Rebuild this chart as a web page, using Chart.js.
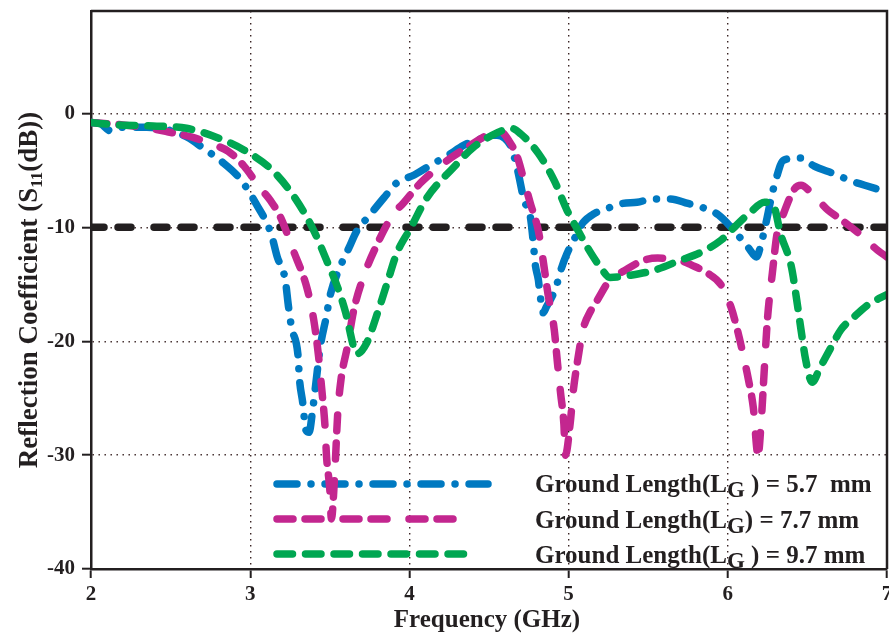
<!DOCTYPE html>
<html><head><meta charset="utf-8">
<script src="https://cdn.jsdelivr.net/npm/chart.js@4/dist/chart.umd.min.js"></script>
<style>html,body{margin:0;padding:0;background:#fff}#wrap{width:889px;height:635px;position:relative}</style>
</head><body><div id="wrap"><canvas id="c"></canvas></div>
<script>
// ---- data (frequency GHz, S11 dB) ----
const lg57 = [[2.00,-0.8],[2.06,-0.9],[2.12,-1.5],[2.20,-1.2],[2.35,-1.2],[2.50,-1.5],[2.62,-2.2],[2.70,-3.0],[2.81,-4.1],[2.94,-5.8],[3.04,-8.0],[3.13,-10.5],[3.17,-12.6],[3.22,-14.6],[3.24,-16.9],[3.26,-18.8],[3.30,-21.2],[3.31,-23.4],[3.33,-25.4],[3.35,-27.8],[3.37,-28.0],[3.39,-26.3],[3.41,-24.0],[3.44,-20.5],[3.48,-17.7],[3.50,-16.1],[3.57,-13.3],[3.62,-11.8],[3.67,-10.3],[3.74,-9.1],[3.84,-7.4],[3.92,-6.1],[4.03,-5.4],[4.15,-4.4],[4.24,-3.7],[4.34,-2.8],[4.45,-2.2],[4.55,-1.9],[4.60,-2.2],[4.64,-3.0],[4.68,-5.0],[4.72,-7.6],[4.76,-9.1],[4.78,-11.6],[4.79,-13.2],[4.81,-14.6],[4.82,-15.8],[4.84,-17.5],[4.86,-17.0],[4.92,-15.3],[4.95,-13.8],[4.99,-12.3],[5.04,-10.9],[5.09,-9.6],[5.16,-8.8],[5.25,-8.3],[5.34,-7.9],[5.43,-7.8],[5.53,-7.5],[5.64,-7.5],[5.75,-7.9],[5.85,-8.3],[5.94,-8.9],[6.04,-10.3],[6.13,-11.8],[6.18,-12.6],[6.21,-11.4],[6.24,-9.6],[6.27,-7.6],[6.30,-5.9],[6.35,-4.1],[6.46,-3.9],[6.54,-4.6],[6.67,-5.3],[6.77,-5.9],[6.86,-6.3],[7.00,-6.9]];
const lg77 = [[2.00,-0.8],[2.20,-1.0],[2.37,-1.3],[2.48,-1.6],[2.64,-2.1],[2.76,-2.7],[2.86,-3.3],[2.96,-4.6],[3.06,-6.5],[3.13,-7.7],[3.19,-9.1],[3.27,-12.0],[3.36,-15.5],[3.40,-18.2],[3.43,-21.4],[3.45,-24.3],[3.47,-27.5],[3.48,-30.2],[3.50,-33.0],[3.51,-35.6],[3.53,-31.9],[3.55,-26.3],[3.57,-23.4],[3.61,-20.5],[3.65,-17.3],[3.71,-14.4],[3.80,-11.4],[3.90,-8.8],[3.96,-7.9],[4.07,-6.1],[4.24,-4.1],[4.36,-3.0],[4.49,-1.9],[4.57,-1.6],[4.63,-2.5],[4.68,-3.9],[4.72,-5.9],[4.76,-7.9],[4.81,-10.3],[4.84,-12.9],[4.87,-15.8],[4.91,-19.0],[4.93,-21.9],[4.95,-24.6],[4.97,-27.2],[4.98,-30.0],[5.01,-27.2],[5.03,-24.3],[5.06,-21.4],[5.09,-19.0],[5.14,-17.3],[5.18,-16.4],[5.26,-14.6],[5.35,-13.8],[5.47,-12.9],[5.56,-12.7],[5.70,-12.9],[5.77,-13.3],[5.87,-14.0],[5.96,-15.1],[6.02,-17.0],[6.06,-19.0],[6.10,-21.4],[6.13,-23.4],[6.16,-25.8],[6.19,-30.0],[6.21,-27.0],[6.23,-22.3],[6.25,-17.9],[6.28,-14.0],[6.31,-10.5],[6.35,-8.8],[6.42,-6.6],[6.46,-6.3],[6.52,-6.9],[6.63,-8.5],[6.69,-9.1],[6.82,-10.5],[6.94,-12.0],[7.00,-12.6]];
const lg97 = [[2.00,-0.8],[2.16,-1.0],[2.39,-1.1],[2.60,-1.3],[2.79,-2.1],[2.96,-3.2],[3.14,-5.0],[3.29,-7.6],[3.40,-10.3],[3.48,-12.9],[3.55,-15.3],[3.60,-17.5],[3.65,-20.5],[3.67,-21.1],[3.73,-20.2],[3.80,-17.5],[3.86,-14.9],[3.92,-12.3],[4.01,-10.0],[4.11,-7.4],[4.28,-4.7],[4.40,-3.0],[4.55,-1.7],[4.64,-1.3],[4.70,-1.8],[4.81,-3.5],[4.91,-5.9],[4.99,-8.5],[5.06,-10.3],[5.12,-11.8],[5.20,-13.5],[5.26,-14.4],[5.39,-14.2],[5.53,-13.8],[5.70,-12.9],[5.83,-12.2],[5.96,-11.1],[6.04,-10.0],[6.14,-8.7],[6.23,-7.8],[6.29,-8.2],[6.33,-10.5],[6.40,-13.5],[6.43,-16.1],[6.46,-19.0],[6.49,-21.7],[6.53,-23.6],[6.58,-22.3],[6.65,-20.5],[6.71,-19.0],[6.79,-17.9],[6.88,-16.8],[7.00,-15.9]];
const refLine = [[2,-10],[7,-10]];
const xTickVals = [2,3,4,5,6,7];
const yTickVals = [-40,-30,-20,-10,0];
const legendItems = [
  {pre:'Ground Length(L', sub:'G', post:' ) = 5.7  mm'},
  {pre:'Ground Length(L', sub:'G', post:') = 7.7 mm'},
  {pre:'Ground Length(L', sub:'G', post:' ) = 9.7 mm'}
];
const xTitle = 'Frequency (GHz)';
const yTitle = {pre:'Reflection Coefficient (S', sub:'11', post:'(dB))'};

// ---- styles ----
const SERIF = '"Liberation Serif","Times New Roman",serif';
const INK = '#231f20';
const BLUE = '#0079c1', MAG = '#c3268f', GRN = '#00a651';
const DASH_BLUE = [20,14,0.01,14], DASH_MAG = [16,12,16,22], DASH_GRN = [15.5,13], DASH_BLK = [13,14,13,23];
const LW = 7.5;
const toXY = arr => arr.map(p => ({x:p[0], y:p[1]}));

const deco = {
  id:'deco',
  beforeDatasetsDraw(chart){
    const {ctx, chartArea:a} = chart;
    const rows = [
      {y:a.top+473, end:a.left+397, c:BLUE, d:DASH_BLUE},
      {y:a.top+508, end:a.left+371, c:MAG, d:DASH_MAG},
      {y:a.top+543, end:a.left+383, c:GRN, d:DASH_GRN}
    ];
    ctx.save();
    ctx.lineCap='round'; ctx.lineWidth=LW;
    rows.forEach(r=>{
      ctx.strokeStyle=r.c; ctx.setLineDash(r.d);
      ctx.beginPath(); ctx.moveTo(a.left+186, r.y); ctx.lineTo(r.end, r.y); ctx.stroke();
    });
    ctx.restore();
  },
  afterDraw(chart){
    const {ctx, chartArea:a} = chart;
    ctx.save();
    // frame top & right
    ctx.strokeStyle=INK; ctx.lineWidth=2.5; ctx.setLineDash([]);
    ctx.beginPath(); ctx.moveTo(a.left, a.top); ctx.lineTo(a.right, a.top); ctx.lineTo(a.right, a.bottom); ctx.stroke();
    ctx.fillStyle=INK;
    ctx.textBaseline='alphabetic';
    // legend text
    const big='bold 25px '+SERIF, small='bold 23px '+SERIF;
    legendItems.forEach((it,i)=>{
      let x=a.left+444, y=a.top+481+i*35.5;
      ctx.font=big; ctx.fillText(it.pre,x,y); x+=ctx.measureText(it.pre).width;
      ctx.font=small; ctx.fillText(it.sub,x,y+5); x+=ctx.measureText(it.sub).width;
      ctx.font=big; ctx.fillText(it.post,x,y);
    });
    // x title
    ctx.font='bold 25px '+SERIF; ctx.textAlign='center';
    ctx.fillText(xTitle,(a.left+a.right)/2-2, 627);
    // y title
    ctx.textAlign='left';
    ctx.translate(37,(a.top+a.bottom)/2);
    ctx.rotate(-Math.PI/2);
    const fb='bold 27px '+SERIF, fs='bold 17px '+SERIF;
    ctx.font=fb; const w1=ctx.measureText(yTitle.pre).width, w3=ctx.measureText(yTitle.post).width;
    ctx.font=fs; const w2=ctx.measureText(yTitle.sub).width;
    let x=-(w1+w2+w3)/2;
    ctx.font=fb; ctx.fillText(yTitle.pre,x,0); x+=w1;
    ctx.font=fs; ctx.fillText(yTitle.sub,x,5); x+=w2;
    ctx.font=fb; ctx.fillText(yTitle.post,x,0);
    ctx.restore();
  }
};

const GRID = '#3a2424';
new Chart(document.getElementById('c'), {
  type:'line',
  data:{datasets:[
    {label:'-10 dB', data:toXY(refLine), borderColor:INK, borderDash:DASH_BLK, order:10},
    {label:'LG = 5.7 mm', data:toXY(lg57), borderColor:BLUE, borderDash:DASH_BLUE, order:3},
    {label:'LG = 7.7 mm', data:toXY(lg77), borderColor:MAG, borderDash:DASH_MAG, order:2},
    {label:'LG = 9.7 mm', data:toXY(lg97), borderColor:GRN, borderDash:DASH_GRN, order:1}
  ]},
  options:{
    responsive:true, maintainAspectRatio:false, animation:false,
    layout:{padding:{top:11,right:2,left:0,bottom:0}},
    plugins:{legend:{display:false}, tooltip:{enabled:false}},
    elements:{
      point:{radius:0},
      line:{borderWidth:LW, borderCapStyle:'round', borderJoinStyle:'round', cubicInterpolationMode:'monotone', fill:false}
    },
    scales:{
      x:{type:'linear', min:2, max:7,
        afterBuildTicks(s){ s.ticks = xTickVals.map(v=>({value:v})); },
        afterFit(s){ s.height=66; s.paddingLeft=0; s.paddingRight=0; },
        ticks:{font:{family:SERIF, weight:'bold', size:21}, color:INK, padding:4, maxRotation:0},
        grid:{color:c=>(c.tick&&(c.tick.value===2||c.tick.value===7))?'rgba(0,0,0,0)':GRID, lineWidth:1.4, tickLength:9, tickColor:INK, tickWidth:2, tickBorderDash:[]},
        border:{display:true, color:INK, width:2.5, dash:[1.4,4.6]}
      },
      y:{type:'linear', min:-40, max:9,
        afterBuildTicks(s){ s.ticks = yTickVals.map(v=>({value:v})); },
        afterFit(s){ s.width=91; s.paddingTop=0; s.paddingBottom=0; },
        ticks:{font:{family:SERIF, weight:'bold', size:21}, color:INK, padding:7},
        grid:{color:c=>(c.tick&&c.tick.value===-40)?'rgba(0,0,0,0)':GRID, lineWidth:1.4, tickLength:9, tickColor:INK, tickWidth:2, tickBorderDash:[]},
        border:{display:true, color:INK, width:2.5, dash:[1.4,4.6]}
      }
    }
  },
  plugins:[deco]
});
</script></body></html>
